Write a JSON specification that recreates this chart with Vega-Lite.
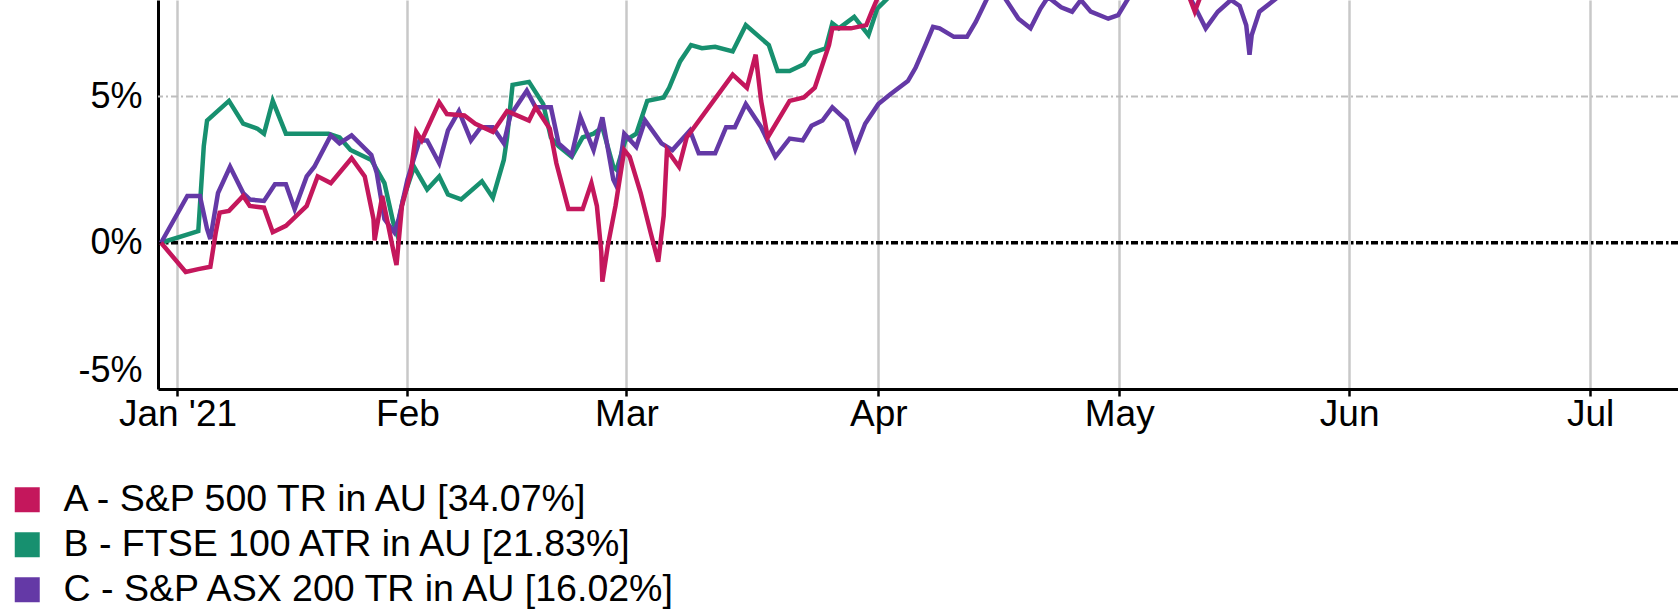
{
  "$schema": "https://vega.github.io/schema/vega-lite/v6.json",
  "width": 1520,
  "height": 389,
  "autosize": {"type": "none"},
  "padding": {"left": 158, "top": 0, "right": 0, "bottom": 227},
  "background": "white",
  "config": {
    "view": {"stroke": null},
    "font": "Liberation Sans"
  },
  "layer": [
    {
      "data": {"values": [{"level": 5}]},
      "mark": {"type": "rule", "color": "#bdbdbd", "strokeWidth": 2, "strokeDash": [7, 3, 2, 3]},
      "encoding": {
        "y": {"field": "level", "type": "quantitative", "scale": {"domain": [-5, 8.3], "nice": false, "zero": false}}
      }
    },
    {
      "data": {"values": [{"level": 0}]},
      "mark": {"type": "rule", "color": "#000000", "strokeWidth": 3.5, "strokeDash": [7, 2.5, 2.5, 3]},
      "encoding": {
        "y": {"field": "level", "type": "quantitative"}
      }
    },
    {
      "data": {"values": [
        {"s":"B","d":-1.5,"v":0},{"s":"B","d":1.9,"v":0.4},{"s":"B","d":2.4,"v":3.3},{"s":"B","d":2.7,"v":4.18},{"s":"B","d":4.7,"v":4.85},{"s":"B","d":6.0,"v":4.07},{"s":"B","d":7.3,"v":3.9},{"s":"B","d":7.9,"v":3.73},{"s":"B","d":8.7,"v":4.85},{"s":"B","d":9.9,"v":3.73},{"s":"B","d":13.8,"v":3.73},{"s":"B","d":14.8,"v":3.6},{"s":"B","d":15.8,"v":3.17},{"s":"B","d":17.7,"v":2.83},{"s":"B","d":18.9,"v":2.04},{"s":"B","d":19.7,"v":0.7},{"s":"B","d":20.0,"v":0.36},{"s":"B","d":20.6,"v":1.48},{"s":"B","d":21.6,"v":2.6},{"s":"B","d":22.8,"v":1.82},{"s":"B","d":23.9,"v":2.27},{"s":"B","d":24.7,"v":1.65},{"s":"B","d":25.9,"v":1.48},{"s":"B","d":27.8,"v":2.1},{"s":"B","d":28.8,"v":1.54},{"s":"B","d":29.8,"v":2.83},{"s":"B","d":30.1,"v":3.6},{"s":"B","d":30.6,"v":5.4},{"s":"B","d":32.1,"v":5.5},{"s":"B","d":33.4,"v":4.74},{"s":"B","d":34.1,"v":3.6},{"s":"B","d":34.8,"v":3.3},{"s":"B","d":36.0,"v":2.94},{"s":"B","d":37.0,"v":3.6},{"s":"B","d":38.0,"v":3.73},{"s":"B","d":38.8,"v":3.95},{"s":"B","d":39.8,"v":2.6},{"s":"B","d":40.1,"v":2.5},{"s":"B","d":40.9,"v":3.5},{"s":"B","d":41.9,"v":3.73},{"s":"B","d":42.9,"v":4.85},{"s":"B","d":44.4,"v":4.97},{"s":"B","d":44.9,"v":5.3},{"s":"B","d":45.9,"v":6.2},{"s":"B","d":46.9,"v":6.76},{"s":"B","d":47.9,"v":6.65},{"s":"B","d":49.1,"v":6.7},{"s":"B","d":50.7,"v":6.54},{"s":"B","d":51.9,"v":7.44},{"s":"B","d":54.0,"v":6.76},{"s":"B","d":54.8,"v":5.87},{"s":"B","d":55.9,"v":5.87},{"s":"B","d":57.2,"v":6.1},{"s":"B","d":57.9,"v":6.48},{"s":"B","d":59.2,"v":6.65},{"s":"B","d":59.8,"v":7.5},{"s":"B","d":60.4,"v":7.33},{"s":"B","d":61.8,"v":7.72},{"s":"B","d":63.1,"v":7.1},{"s":"B","d":63.9,"v":8.0},{"s":"B","d":65.5,"v":8.6},{"s":"B","d":80,"v":10},{"s":"B","d":137,"v":12},
        {"s":"C","d":-1.5,"v":0},{"s":"C","d":0.9,"v":1.6},{"s":"C","d":2.05,"v":1.6},{"s":"C","d":2.7,"v":0.47},{"s":"C","d":3.0,"v":0.13},{"s":"C","d":3.7,"v":1.7},{"s":"C","d":4.8,"v":2.6},{"s":"C","d":6.0,"v":1.7},{"s":"C","d":6.6,"v":1.48},{"s":"C","d":7.9,"v":1.43},{"s":"C","d":8.9,"v":2.0},{"s":"C","d":9.9,"v":2.0},{"s":"C","d":10.7,"v":1.15},{"s":"C","d":11.8,"v":2.27},{"s":"C","d":12.5,"v":2.6},{"s":"C","d":14.0,"v":3.67},{"s":"C","d":14.8,"v":3.4},{"s":"C","d":15.9,"v":3.67},{"s":"C","d":17.7,"v":3.0},{"s":"C","d":18.2,"v":2.38},{"s":"C","d":18.9,"v":0.81},{"s":"C","d":19.8,"v":0.36},{"s":"C","d":20.2,"v":0.81},{"s":"C","d":21.0,"v":2.16},{"s":"C","d":22.1,"v":3.5},{"s":"C","d":22.8,"v":3.5},{"s":"C","d":23.9,"v":2.72},{"s":"C","d":24.7,"v":3.84},{"s":"C","d":25.7,"v":4.5},{"s":"C","d":26.8,"v":3.5},{"s":"C","d":27.7,"v":3.95},{"s":"C","d":28.8,"v":3.95},{"s":"C","d":29.8,"v":3.4},{"s":"C","d":30.4,"v":4.35},{"s":"C","d":31.9,"v":5.2},{"s":"C","d":32.7,"v":4.63},{"s":"C","d":34.1,"v":4.63},{"s":"C","d":34.8,"v":3.4},{"s":"C","d":36.0,"v":3.0},{"s":"C","d":36.8,"v":4.29},{"s":"C","d":38.0,"v":3.17},{"s":"C","d":38.8,"v":4.29},{"s":"C","d":39.8,"v":2.16},{"s":"C","d":40.1,"v":1.93},{"s":"C","d":40.8,"v":3.73},{"s":"C","d":41.9,"v":3.28},{"s":"C","d":42.7,"v":4.18},{"s":"C","d":44.2,"v":3.4},{"s":"C","d":45.2,"v":3.17},{"s":"C","d":46.8,"v":3.84},{"s":"C","d":47.6,"v":3.06},{"s":"C","d":49.1,"v":3.06},{"s":"C","d":50.1,"v":3.95},{"s":"C","d":50.9,"v":3.95},{"s":"C","d":51.9,"v":4.74},{"s":"C","d":53.3,"v":3.95},{"s":"C","d":54.6,"v":2.94},{"s":"C","d":55.9,"v":3.56},{"s":"C","d":57.1,"v":3.5},{"s":"C","d":57.9,"v":4.0},{"s":"C","d":58.9,"v":4.18},{"s":"C","d":59.8,"v":4.63},{"s":"C","d":61.1,"v":4.18},{"s":"C","d":61.9,"v":3.2},{"s":"C","d":62.8,"v":4.07},{"s":"C","d":64.0,"v":4.74},{"s":"C","d":65.1,"v":5.08},{"s":"C","d":66.7,"v":5.53},{"s":"C","d":67.4,"v":5.98},{"s":"C","d":68.3,"v":6.76},{"s":"C","d":69.0,"v":7.38},{"s":"C","d":69.6,"v":7.33},{"s":"C","d":70.9,"v":7.04},{"s":"C","d":72.1,"v":7.04},{"s":"C","d":72.9,"v":7.55},{"s":"C","d":74.0,"v":8.4},{"s":"C","d":75.5,"v":8.4},{"s":"C","d":76.8,"v":7.66},{"s":"C","d":77.9,"v":7.33},{"s":"C","d":78.8,"v":8.0},{"s":"C","d":79.5,"v":8.4},{"s":"C","d":80.7,"v":8.05},{"s":"C","d":81.7,"v":7.9},{"s":"C","d":82.5,"v":8.3},{"s":"C","d":83.4,"v":7.9},{"s":"C","d":85.0,"v":7.66},{"s":"C","d":85.9,"v":7.78},{"s":"C","d":86.9,"v":8.4},{"s":"C","d":89.5,"v":8.5},{"s":"C","d":92.3,"v":8.5},{"s":"C","d":93.0,"v":8.0},{"s":"C","d":93.9,"v":7.33},{"s":"C","d":95.0,"v":7.9},{"s":"C","d":96.2,"v":8.3},{"s":"C","d":97.0,"v":8.1},{"s":"C","d":97.6,"v":7.44},{"s":"C","d":97.9,"v":6.43},{"s":"C","d":98.1,"v":7.1},{"s":"C","d":98.8,"v":7.9},{"s":"C","d":100.5,"v":8.4},{"s":"C","d":110,"v":10},{"s":"C","d":137,"v":12},
        {"s":"A","d":-1.5,"v":0},{"s":"A","d":0.75,"v":-1.0},{"s":"A","d":1.9,"v":-0.9},{"s":"A","d":3.0,"v":-0.82},{"s":"A","d":3.5,"v":0.36},{"s":"A","d":3.85,"v":1.03},{"s":"A","d":4.7,"v":1.09},{"s":"A","d":6.0,"v":1.6},{"s":"A","d":6.6,"v":1.26},{"s":"A","d":7.9,"v":1.2},{"s":"A","d":8.7,"v":0.36},{"s":"A","d":9.9,"v":0.58},{"s":"A","d":11.8,"v":1.26},{"s":"A","d":12.8,"v":2.27},{"s":"A","d":14.0,"v":2.04},{"s":"A","d":15.9,"v":2.89},{"s":"A","d":17.1,"v":2.27},{"s":"A","d":17.9,"v":0.81},{"s":"A","d":18.0,"v":0.08},{"s":"A","d":18.7,"v":1.6},{"s":"A","d":19.8,"v":-0.43},{"s":"A","d":20.0,"v":-0.76},{"s":"A","d":20.5,"v":1.26},{"s":"A","d":21.3,"v":2.38},{"s":"A","d":21.8,"v":3.79},{"s":"A","d":22.3,"v":3.5},{"s":"A","d":23.9,"v":4.8},{"s":"A","d":24.6,"v":4.4},{"s":"A","d":26.2,"v":4.35},{"s":"A","d":27.2,"v":4.07},{"s":"A","d":28.8,"v":3.79},{"s":"A","d":30.1,"v":4.5},{"s":"A","d":32.1,"v":4.18},{"s":"A","d":32.7,"v":4.63},{"s":"A","d":34.0,"v":3.9},{"s":"A","d":34.6,"v":2.72},{"s":"A","d":35.7,"v":1.15},{"s":"A","d":37.0,"v":1.15},{"s":"A","d":37.8,"v":2.04},{"s":"A","d":38.3,"v":1.26},{"s":"A","d":38.7,"v":-0.3},{"s":"A","d":38.8,"v":-1.33},{"s":"A","d":39.3,"v":-0.1},{"s":"A","d":40.0,"v":1.26},{"s":"A","d":40.8,"v":3.17},{"s":"A","d":41.3,"v":2.94},{"s":"A","d":42.3,"v":1.7},{"s":"A","d":43.2,"v":0.36},{"s":"A","d":43.9,"v":-0.65},{"s":"A","d":44.4,"v":0.92},{"s":"A","d":44.7,"v":3.17},{"s":"A","d":45.8,"v":2.6},{"s":"A","d":46.5,"v":3.6},{"s":"A","d":50.7,"v":5.75},{"s":"A","d":52.0,"v":5.3},{"s":"A","d":52.8,"v":6.43},{"s":"A","d":53.3,"v":4.85},{"s":"A","d":53.9,"v":3.6},{"s":"A","d":55.9,"v":4.85},{"s":"A","d":57.2,"v":4.97},{"s":"A","d":58.2,"v":5.3},{"s":"A","d":59.5,"v":6.76},{"s":"A","d":59.8,"v":7.33},{"s":"A","d":61.5,"v":7.33},{"s":"A","d":62.9,"v":7.44},{"s":"A","d":63.4,"v":7.9},{"s":"A","d":64.2,"v":8.6},{"s":"A","d":70,"v":10},{"s":"A","d":85,"v":11},{"s":"A","d":92.2,"v":8.6},{"s":"A","d":92.9,"v":7.9},{"s":"A","d":93.6,"v":8.6},{"s":"A","d":110,"v":12},{"s":"A","d":137,"v":14}
      ]},
      "mark": {"type": "line", "strokeWidth": 4.5, "clip": true, "strokeJoin": "miter"},
      "encoding": {
        "x": {
          "field": "d", "type": "quantitative",
          "scale": {"domain": [-1.78, 137.03], "nice": false, "zero": false},
          "axis": {
            "title": null,
            "values": [0, 21, 41, 64, 86, 107, 129],
            "labelExpr": "datum.value == 0 ? \"Jan '21\" : datum.value == 21 ? 'Feb' : datum.value == 41 ? 'Mar' : datum.value == 64 ? 'Apr' : datum.value == 86 ? 'May' : datum.value == 107 ? 'Jun' : 'Jul'",
            "labelFont": "Liberation Sans", "labelFontSize": 37, "labelColor": "#000000",
            "labelFlush": false, "labelPadding": 0, "labelAlign": "center", "labelOverlap": false,
            "tickSize": 7, "tickWidth": 2.5, "tickColor": "#000000",
            "domainColor": "#000000", "domainWidth": 3,
            "grid": true, "gridColor": "#c8c8c8", "gridWidth": 2.5,
            "zindex": 0
          }
        },
        "y": {
          "field": "v", "type": "quantitative",
          "scale": {"domain": [-5, 8.3], "nice": false, "zero": false},
          "axis": {
            "title": null,
            "values": [-5, 0, 5],
            "labelExpr": "datum.value + '%'",
            "labelFont": "Liberation Sans", "labelFontSize": 36, "labelColor": "#000000",
            "labelFlush": true, "labelPadding": 16,
            "tickSize": 0, "grid": false,
            "domainColor": "#000000", "domainWidth": 3
          }
        },
        "color": {
          "field": "s", "type": "nominal",
          "scale": {"domain": ["A", "B", "C"], "range": ["#c4175c", "#17906f", "#6439a6"]},
          "legend": {
            "title": null,
            "orient": "none",
            "legendX": -149.5,
            "legendY": 481,
            "padding": 0,
            "labelExpr": "datum.value == 'A' ? 'A - S&P 500 TR in AU [34.07%]' : datum.value == 'B' ? 'B - FTSE 100 ATR in AU [21.83%]' : 'C - S&P ASX 200 TR in AU [16.02%]'",
            "labelFont": "Liberation Sans", "labelFontSize": 37.5, "labelColor": "#000000",
            "labelOffset": 17.5, "labelLimit": 1000,
            "rowPadding": 6,
            "symbolType": "square", "symbolSize": 625, "symbolStrokeWidth": 0,
            "encode": {
              "symbols": {"update": {"fill": {"scale": "color", "field": "value"}, "stroke": {"value": "transparent"}, "opacity": {"value": 1}}}
            }
          }
        }
      }
    }
  ]
}
